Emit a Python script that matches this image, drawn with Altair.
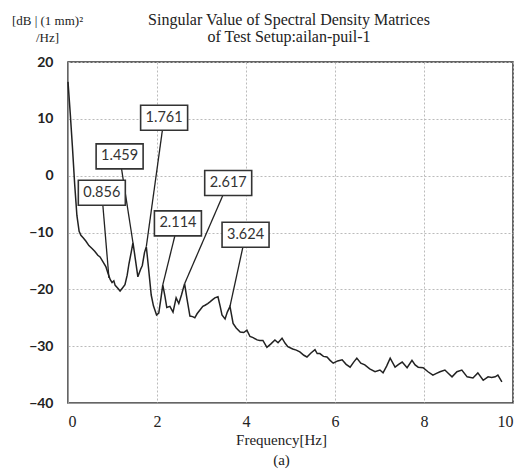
import altair as alt
import pandas as pd

freq = [0.00, 0.05, 0.10, 0.15, 0.20, 0.25, 0.29, 0.35, 0.40, 0.47, 0.54, 0.60, 0.67, 0.72, 0.79,
        0.85, 0.90, 0.95, 0.99, 1.03, 1.06, 1.12, 1.17, 1.22, 1.28, 1.33, 1.37, 1.42, 1.46, 1.51,
        1.57, 1.63, 1.67, 1.72, 1.76, 1.80, 1.87, 1.92, 1.99, 2.04, 2.09, 2.13, 2.18, 2.22, 2.29,
        2.36, 2.43, 2.49, 2.55, 2.62, 2.67, 2.74, 2.80, 2.85, 2.90, 2.97, 3.03, 3.08, 3.14, 3.19,
        3.25, 3.30, 3.37, 3.42, 3.46, 3.53, 3.58, 3.64, 3.71, 3.78, 3.87, 3.95, 4.02, 4.09, 4.16,
        4.25, 4.31, 4.38, 4.47, 4.56, 4.65, 4.72, 4.81, 4.88, 4.94, 5.05, 5.13, 5.21, 5.30, 5.37,
        5.46, 5.55, 5.60, 5.66, 5.74, 5.82, 5.89, 5.96, 6.06, 6.16, 6.25, 6.34, 6.42, 6.49, 6.58,
        6.67, 6.78, 6.90, 7.01, 7.08, 7.16, 7.24, 7.35, 7.43, 7.51, 7.62, 7.73, 7.80, 7.87, 7.98,
        8.09, 8.20, 8.28, 8.36, 8.47, 8.55, 8.63, 8.74, 8.85, 8.97, 9.10, 9.21, 9.33, 9.44, 9.52,
        9.60, 9.66, 9.75]
db = [16.5, 11.0, 5.0, -1.5, -7.0, -9.8, -10.5, -11.0, -11.5, -12.3, -12.8, -13.3, -14.0, -14.3, -15.2,
      -16.0, -17.2, -18.3, -18.8, -18.5, -19.3, -19.8, -20.3, -19.8, -19.2, -17.5, -15.5, -13.5, -11.8, -14.5,
      -17.8, -16.5, -15.8, -13.5, -12.5, -15.5, -21.0, -22.9, -24.5, -24.2, -21.5, -19.2, -21.3, -23.2, -23.0,
      -24.0, -21.5, -22.5, -21.0, -19.0, -21.5, -24.7, -24.8, -25.0, -24.3, -23.6, -23.0, -22.8, -22.5, -22.2,
      -21.8, -21.5, -21.3, -23.0, -24.5, -25.2, -24.0, -23.0, -26.0, -26.8, -27.5, -27.6, -27.2, -28.3, -28.5,
      -28.9, -29.0, -29.0, -30.2, -29.6, -28.9, -29.4, -28.6, -29.5, -30.1, -30.5, -30.7, -31.0, -31.6, -31.9,
      -31.2, -30.6, -31.3, -31.3, -31.8, -31.9, -32.5, -33.0, -32.6, -32.4, -33.2, -33.7, -32.8, -32.1, -33.0,
      -33.3, -34.0, -34.5, -34.2, -34.7, -33.5, -32.1, -33.7, -33.2, -32.8, -33.8, -32.5, -33.3, -33.7, -33.8,
      -34.5, -35.1, -34.8, -34.5, -34.2, -34.8, -35.4, -34.5, -34.2, -35.4, -35.6, -34.7, -36.0, -35.4, -35.5,
      -35.4, -35.1, -36.3]

labels = ["0.856", "1.459", "1.761", "2.114", "2.617", "3.624"]
label_f = [0.76, 1.16, 2.16, 2.47, 3.60, 3.99]
label_db = [-3.0, 3.4, 10.2, -8.4, -1.3, -10.4]
peak_f = [0.92, 1.46, 1.76, 2.13, 2.62, 3.64]
peak_db = [-18.0, -11.8, -12.5, -19.2, -19.0, -23.0]

x_ticks = [0, 2, 4, 6, 8, 10]
y_ticks = [-40, -30, -20, -10, 0, 10, 20]
title_lines = ["Singular Value of Spectral Density Matrices", "of Test Setup:ailan-puil-1"]

curve = pd.DataFrame({"f": freq, "db": db})
ann = pd.DataFrame({"label": labels, "lf": label_f, "ldb": label_db, "pf": peak_f, "pdb": peak_db})

xs = alt.Scale(domain=[0, 10], nice=False)
ys = alt.Scale(domain=[-40, 20], nice=False)

x_axis = alt.Axis(values=x_ticks, grid=True, ticks=False, labelFont="Liberation Serif", labelFontSize=16,
                  labelColor="#222", labelPadding=10, domainColor="#999",
                  title=["Frequency[Hz]", "(a)"], titleFont="Liberation Serif", titleFontSize=15,
                  titleFontWeight="normal", titleColor="#222", titleLineHeight=20,
                  titleX=213, titleY=29, titleBaseline="top", titleAlign="center")
y_axis = alt.Axis(values=y_ticks, grid=True, ticks=False, labelFont="Lato", labelFontSize=14,
                  labelFontWeight="bold", labelColor="#222", labelPadding=15, domainColor="#999",
                  title=["[dB | (1 mm)²", "/Hz]"], titleFont="Liberation Serif", titleFontSize=13,
                  titleFontWeight="normal", titleColor="#222", titleAngle=0, titleLineHeight=17,
                  titleAlign="center", titleBaseline="top", titleX=-21, titleY=-48)

line = alt.Chart(curve).mark_line(color="#222", strokeWidth=1.5).encode(
    x=alt.X("f:Q", scale=xs, axis=x_axis),
    y=alt.Y("db:Q", scale=ys, axis=y_axis),
)

leaders = alt.Chart(ann).mark_rule(color="#222", strokeWidth=1.3).encode(
    x=alt.X("lf:Q", scale=xs), y=alt.Y("ldb:Q", scale=ys), x2="pf:Q", y2="pdb:Q"
)

boxes = alt.Chart(ann).mark_rect(width=47, height=25, fill="white", stroke="#333", strokeWidth=1.6).encode(
    x=alt.X("lf:Q", scale=xs), y=alt.Y("ldb:Q", scale=ys)
)

texts = alt.Chart(ann).mark_text(font="Lato", fontSize=14.5, color="#333", align="center",
                                 baseline="middle").encode(
    x=alt.X("lf:Q", scale=xs), y=alt.Y("ldb:Q", scale=ys), text="label:N"
)

title1 = alt.Chart(pd.DataFrame({"t": [title_lines[0]]})).mark_text(
    font="Liberation Serif", fontSize=16, color="#222", align="center", baseline="middle"
).encode(x=alt.value(221), y=alt.value(-42), text="t:N")
title2 = alt.Chart(pd.DataFrame({"t": [title_lines[1]]})).mark_text(
    font="Liberation Serif", fontSize=16, color="#222", align="center", baseline="middle"
).encode(x=alt.value(221), y=alt.value(-25), text="t:N")

chart = alt.layer(line, leaders, boxes, texts, title1, title2).properties(
    width=445, height=341,
    autosize=alt.AutoSizeParams(type="none"),
    padding={"left": 68, "top": 62, "right": 10, "bottom": 69},
).configure_view(stroke="#333", strokeWidth=1.5).configure_axis(
    gridColor="#bbb", gridDash=[2, 2], gridWidth=1
)

chart.save("out.html", embed_options={"renderer": "svg", "actions": False})
